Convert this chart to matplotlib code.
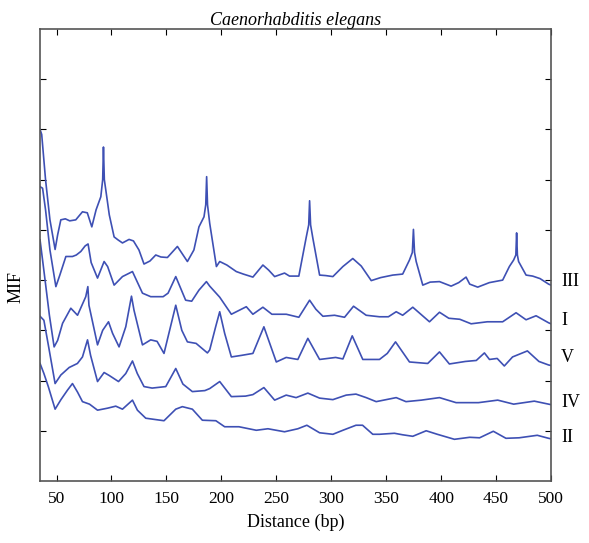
import numpy as np
import matplotlib
matplotlib.use('Agg')
import matplotlib.pyplot as plt
from matplotlib import rcParams
import matplotlib.transforms as mtransforms

# ===== 样式 =====
rcParams['font.family'] = ['Liberation Serif', 'DejaVu Serif']
rcParams['xtick.direction'] = 'in'
rcParams['ytick.direction'] = 'in'

# ===== 数据 (距离 bp, MIF 偏移后数值) =====
chrom_III = [(35, 7.0), (36.5, 6.9), (40, 6.0), (44, 5.2), (48.7, 4.61), (51, 4.9), (53.9, 5.2),
             (58, 5.22), (62, 5.18), (67.5, 5.2), (73.6, 5.36), (78, 5.34), (82.1, 5.06), (86, 5.4),
             (90.3, 5.66), (92, 6.0), (92.7, 6.65), (93.5, 6.0), (94.8, 5.8), (98, 5.3), (102.4, 4.86),
             (106, 4.8), (110, 4.74), (116, 4.81), (120, 4.78), (125, 4.6), (129.6, 4.32), (135, 4.38),
             (140.3, 4.5), (145, 4.46), (150.9, 4.45), (160, 4.67), (169.1, 4.37), (175, 4.6),
             (179.6, 5.06), (184.2, 5.26), (185.8, 5.5), (186.6, 6.06), (187.4, 5.5), (189.4, 5.13),
             (195.5, 4.27), (198.5, 4.37), (205, 4.3), (213.6, 4.17), (220, 4.12), (228.7, 4.06),
             (237.8, 4.30), (243, 4.2), (248.5, 4.07), (257.5, 4.14), (262, 4.08), (270.5, 4.08),
             (277.3, 4.86), (279.5, 5.1), (280.3, 5.58), (281.2, 5.1), (283.3, 4.83), (289.4, 4.10),
             (295, 4.09), (301.5, 4.07), (310.6, 4.27), (319.6, 4.43), (327.3, 4.28), (336.4, 3.99),
             (345, 4.05), (356, 4.1), (365, 4.12), (371.2, 4.40), (373.8, 4.55), (374.8, 5.01),
             (375.8, 4.55), (377.3, 4.37), (383.3, 3.90), (390, 3.96), (398.5, 3.97), (409.1, 3.88),
             (416, 3.95), (422.7, 4.06), (426, 3.92), (433.3, 3.86), (443.9, 3.95), (456, 4.0),
             (462.1, 4.27), (466, 4.4), (468, 4.5), (468.7, 4.94), (469.4, 4.5), (470.5, 4.37),
             (477.3, 4.10), (483.3, 4.08), (490, 4.03), (497.8, 3.92), (500, 3.9)]

chrom_I = [(35, 5.86), (37.3, 5.83), (40, 5.4), (44, 4.6), (49.4, 3.87), (53, 4.1), (58.5, 4.47),
           (64.5, 4.47), (68, 4.5), (72.1, 4.57), (76, 4.68), (78.7, 4.72), (81.5, 4.35), (87.3, 4.04),
           (93.3, 4.37), (96.5, 4.27), (102.4, 3.90), (110, 4.07), (119.1, 4.17), (128.2, 3.74),
           (135.7, 3.67), (147, 3.67), (151.5, 3.74), (158.5, 4.07), (167.5, 3.60), (173, 3.58),
           (179.6, 3.80), (186.4, 3.97), (189.4, 3.88), (198.5, 3.66), (209.1, 3.32), (222.7, 3.47),
           (228.7, 3.32), (237.8, 3.46), (246, 3.32), (259.1, 3.32), (270.5, 3.26), (280.3, 3.60),
           (286, 3.42), (292.4, 3.28), (303, 3.30), (312.1, 3.26), (320.3, 3.48), (331.8, 3.30),
           (343.9, 3.27), (352, 3.27), (359.1, 3.37), (365, 3.30), (374.2, 3.46), (389.4, 3.17),
           (398.5, 3.36), (407, 3.24), (417, 3.22), (427.3, 3.13), (442, 3.17), (456, 3.17),
           (468.2, 3.35), (477.3, 3.21), (486.4, 3.29), (497.8, 3.15), (500, 3.13)]

chrom_V = [(35, 4.80), (39, 4.1), (43.5, 3.3), (47.8, 2.67), (51, 2.8), (55.5, 3.14), (63, 3.44),
           (69.1, 3.30), (76.6, 3.67), (78.5, 3.87), (79.5, 3.5), (87.3, 2.71), (92, 3.0), (97.3, 3.17),
           (101, 2.94), (106.9, 2.67), (113, 3.07), (118.2, 3.68), (120.5, 3.4), (128.2, 2.71),
           (135.7, 2.81), (141.5, 2.78), (147.8, 2.54), (153.7, 3.07), (158.5, 3.50), (164, 3.0),
           (169.1, 2.77), (177, 2.74), (187.3, 2.55), (189.4, 2.61), (194.8, 3.07), (198.5, 3.37),
           (203, 2.94), (209.1, 2.47), (218, 2.50), (228.7, 2.54), (238.7, 3.07), (250, 2.37),
           (259, 2.46), (269.6, 2.42), (278.7, 2.84), (289.4, 2.42), (304, 2.46), (310.6, 2.43),
           (319.1, 2.89), (328.7, 2.42), (343.9, 2.42), (351, 2.54), (358.5, 2.77), (371.2, 2.37),
           (387.8, 2.34), (398.5, 2.57), (407.5, 2.33), (422, 2.38), (432, 2.40), (439.4, 2.55),
           (444, 2.42), (451, 2.44), (457.5, 2.29), (465, 2.47), (478.5, 2.59), (489, 2.38),
           (497.8, 2.31), (500, 2.3)]

chrom_IV = [(35, 3.28), (38.5, 3.2), (43, 2.65), (48.7, 1.94), (53.9, 2.11), (61.5, 2.26), (69, 2.34),
            (73.6, 2.47), (78.2, 2.81), (81, 2.5), (87.3, 1.98), (93.3, 2.16), (98, 2.10), (106.4, 1.98),
            (113, 2.14), (119.1, 2.39), (123.5, 2.14), (129.6, 1.88), (137, 1.85), (149.4, 1.88),
            (158.5, 2.24), (165, 1.93), (173.6, 1.78), (185, 1.80), (189.4, 1.84), (198.5, 1.98),
            (209.1, 1.68), (222, 1.69), (228.7, 1.72), (238.7, 1.86), (248.5, 1.61), (259, 1.71),
            (268, 1.66), (278.7, 1.75), (289.4, 1.65), (301.5, 1.62), (313.6, 1.71), (322.5, 1.73),
            (331.8, 1.66), (340.9, 1.58), (350, 1.62), (359.1, 1.66), (368, 1.58), (382, 1.61),
            (398.5, 1.66), (413.6, 1.56), (434, 1.56), (451.5, 1.61), (466, 1.53), (484.8, 1.59),
            (497.8, 1.53), (500, 1.52)]

chrom_II = [(35, 2.34), (38.5, 2.14), (42.5, 1.88), (48.7, 1.43), (54, 1.62), (60, 1.81), (64.5, 1.94),
            (69.1, 1.77), (73.6, 1.58), (80, 1.53), (87.3, 1.41), (96.5, 1.45), (103.9, 1.49),
            (110, 1.43), (119.1, 1.61), (123.6, 1.41), (131.2, 1.25), (147.8, 1.20), (158.5, 1.43),
            (164.5, 1.48), (173.6, 1.43), (182.7, 1.21), (195, 1.20), (203, 1.08), (216, 1.08),
            (231.8, 1.01), (242.4, 1.04), (257.5, 0.98), (269.6, 1.04), (277.8, 1.11), (289.4, 0.96),
            (301.5, 0.93), (310.6, 1.01), (322.5, 1.11), (328.5, 1.11), (337.8, 0.93), (343.9, 0.93),
            (357.5, 0.95), (365, 0.92), (374.2, 0.89), (386.4, 1.00), (396.5, 0.93), (412.1, 0.83),
            (426, 0.87), (435, 0.86), (447.5, 0.99), (459, 0.85), (471, 0.86), (487.5, 0.91),
            (497.8, 0.85), (500, 0.84)]

names = ['III', 'I', 'V', 'IV', 'II']
label_y = [3.98, 3.2, 2.45, 1.57, 0.87]
xticks = [50, 100, 150, 200, 250, 300, 350, 400, 450, 500]

# ===== 绘图 =====
fig = plt.figure(figsize=(5.89, 5.43), dpi=100)
ax = fig.add_axes([0.068, 0.1142, 0.8675, 0.8324])
color = '#3e50b4'
for data in [chrom_III, chrom_I, chrom_V, chrom_IV, chrom_II]:
    arr = np.array(data)
    ax.plot(arr[:, 0], arr[:, 1], color=color, linewidth=1.2)

ax.set_xlim(35, 500)
ax.set_ylim(0, 9)
ax.set_xticks(xticks)
ax.set_yticks(range(1, 9))
ax.set_yticklabels([])
ax.tick_params(axis='both', which='both', top=True, right=True, length=4, width=0.8,
               labelsize=12.5, pad=7)
for sp in ax.spines.values():
    sp.set_color('#555555')
    sp.set_linewidth(1.2)

trans = mtransforms.blended_transform_factory(ax.transAxes, ax.transData)
for name, yy in zip(names, label_y):
    ax.text(1.02, yy, name, transform=trans, fontsize=13, ha='left', va='center')

ax.set_xlabel('Distance (bp)', fontsize=13, labelpad=5)
ax.set_ylabel('MIF', fontsize=13, labelpad=6)
ax.yaxis.set_label_coords(-0.03, 0.43)
ax.set_title('Caenorhabditis elegans', fontsize=13, style='italic', pad=3)

fig.savefig('out.png', dpi=100)
